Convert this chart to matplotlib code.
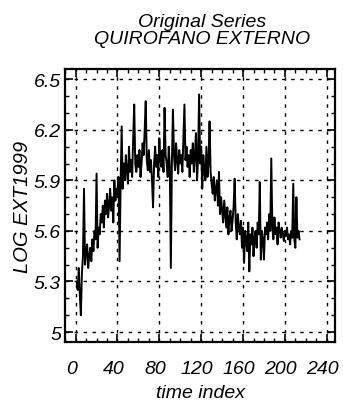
"""original series plot, quirofano externo"""

import matplotlib
matplotlib.use('Agg')
import matplotlib.pyplot as plt
import matplotlib.transforms as mtransforms
from matplotlib.ticker import MultipleLocator

plt.rcParams['font.family'] = ['Liberation Sans', 'DejaVu Sans']

# log of monthly counts
log_ext = [
    5.30, 5.25, 5.38, 5.22, 5.10, 5.35, 5.45, 5.85, 5.40, 5.48,
    5.52, 5.38, 5.45, 5.50, 5.42, 5.55, 5.48, 5.60, 5.55, 5.94,
    5.50, 5.62, 5.58, 5.70, 5.65, 5.75, 5.62, 5.78, 5.70, 5.82,
    5.68, 5.75, 5.85, 5.72, 5.80, 5.65, 5.90, 5.78, 5.85, 5.82,
    5.92, 5.42, 5.88, 6.22, 5.85, 6.00, 5.90, 6.05, 5.95, 5.88,
    6.10, 5.95, 6.02, 5.92, 6.15, 6.35, 6.00, 5.95, 6.05, 5.98,
    6.08, 5.92, 6.00, 6.12, 6.05, 6.20, 6.37, 6.02, 5.96, 6.08,
    5.95, 6.02, 5.90, 5.74, 6.00, 6.10, 5.98, 6.05, 5.92, 6.15,
    6.02, 5.98, 6.08, 5.95, 6.33, 6.05, 6.00, 5.92, 6.10, 5.98,
    5.38, 6.00, 6.32, 6.05, 5.96, 6.12, 6.02, 5.94, 6.08, 6.00,
    6.05, 5.95, 6.15, 6.35, 6.02, 6.10, 5.98, 6.05, 5.92, 6.08,
    6.00, 6.12, 5.95, 6.05, 6.18, 5.90, 6.02, 6.41, 6.00, 6.10,
    5.85, 6.05, 5.95, 5.90, 6.10, 5.92, 6.00, 6.25, 5.95, 5.88,
    5.82, 5.92, 5.78, 5.85, 5.90, 5.75, 5.95, 5.70, 5.80, 5.72,
    5.65, 5.78, 5.70, 5.62, 5.74, 5.58, 5.68, 5.72, 5.60, 5.66,
    5.75, 5.91, 5.65, 5.55, 5.70, 5.62, 5.58, 5.66, 5.50, 5.62,
    5.41, 5.60, 5.55, 5.48, 5.65, 5.36, 5.58, 5.52, 5.62, 5.45,
    5.56, 5.60, 5.50, 5.65, 5.58, 5.89, 5.43, 5.60, 5.55, 5.43,
    5.62, 5.58, 5.65, 5.55, 5.70, 5.60, 6.03, 5.62, 5.55, 5.68,
    5.58, 5.62, 5.52, 5.65, 5.60, 5.56, 5.62, 5.58, 5.54, 5.60,
    5.57, 5.62, 5.55, 5.58, 5.52, 5.60, 5.56, 5.88, 5.55, 5.50,
    5.80, 5.56, 5.60, 5.55,
]
time_index = list(range(1, len(log_ext) + 1))

x_ticks = [0, 40, 80, 120, 160, 200, 240]
y_ticks = [5, 5.3, 5.6, 5.9, 6.2, 6.5]
y_labels = ['5', '5.3', '5.6', '5.9', '6.2', '6.5']

fig = plt.figure(figsize=(3.43, 4.10), dpi=100)
ax = fig.add_axes([0.19, 0.163, 0.787, 0.666])

ax.plot(time_index, log_ext, color='black', lw=1.4)

ax.set_xlim(-10, 248)
ax.set_ylim(4.94, 6.56)
ax.set_xticks(x_ticks)
ax.set_yticks(y_ticks)
ax.set_yticklabels(y_labels)
ax.xaxis.set_minor_locator(MultipleLocator(10))
ax.yaxis.set_minor_locator(MultipleLocator(0.1))

# dotted grid like the old stat package
ax.grid(True, which='major', color='black', lw=1.0,
        linestyle=(0, (2.5, 4)))

ax.tick_params(which='both', direction='in', top=True, right=True,
               labelsize=14, color='black')
ax.tick_params(which='major', length=6, width=1.2)
ax.tick_params(which='minor', length=3, width=1.0)
ax.tick_params(axis='x', pad=13)
ax.tick_params(axis='y', pad=3)

# x labels sit a bit left of their ticks in the original
shift = mtransforms.ScaledTranslation(-4 / 100, 0, fig.dpi_scale_trans)
for lab in ax.get_xticklabels():
    lab.set_fontstyle('italic')
    lab.set_transform(lab.get_transform() + shift)
for lab in ax.get_yticklabels():
    lab.set_fontstyle('italic')

for spine in ax.spines.values():
    spine.set_linewidth(1.6)

ax.set_xlabel('time index', fontsize=14, style='italic', labelpad=5)
ax.set_ylabel('LOG EXT1999', fontsize=14.5, style='italic', labelpad=1)

fig.text(0.59, 0.933, 'Original Series', ha='center', va='baseline',
         fontsize=14, style='italic')
fig.text(0.59, 0.893, 'QUIROFANO EXTERNO', ha='center', va='baseline',
         fontsize=14, style='italic')

fig.savefig('out.png', dpi=100)
